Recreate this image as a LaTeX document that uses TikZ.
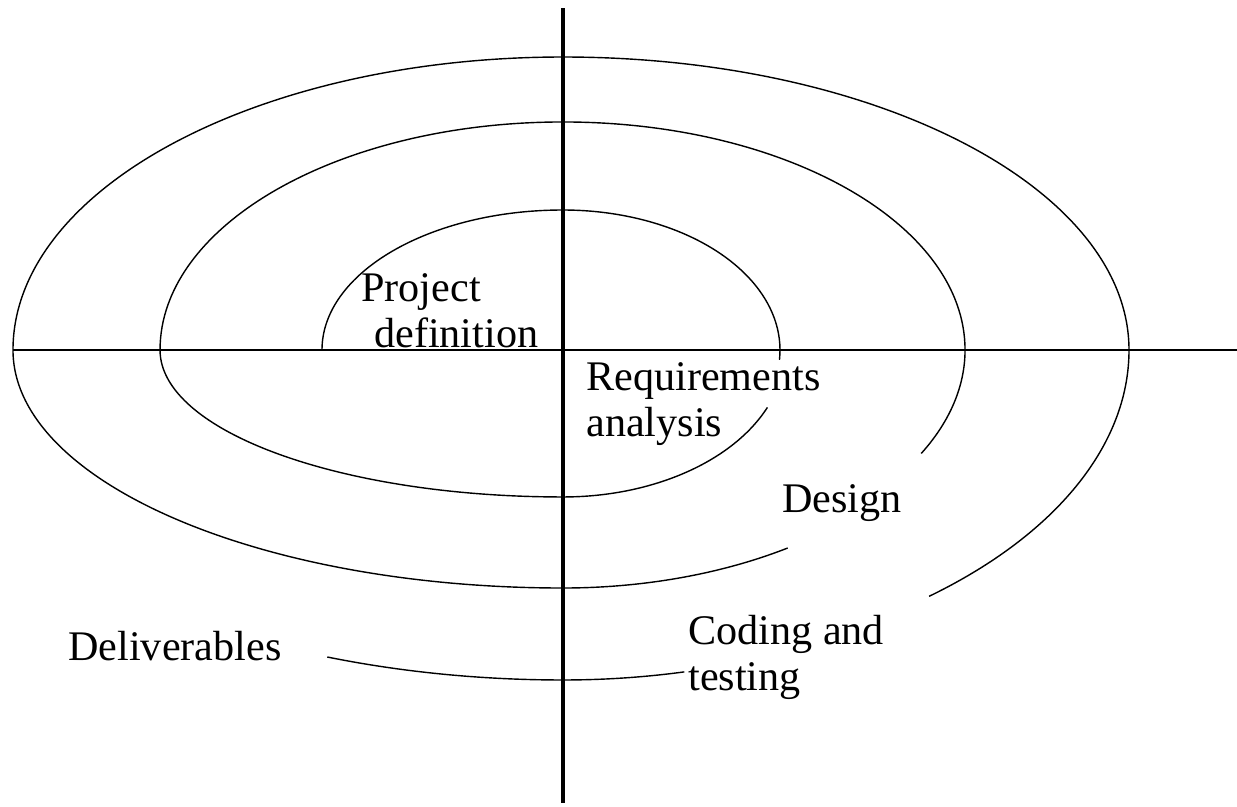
\documentclass[tikz,border=0pt]{standalone}
\usepackage{fontspec}
\setmainfont{Liberation Serif}
\begin{document}
\begin{tikzpicture}[x=0.02cm,y=0.02cm,
    lbl/.style={inner sep=0pt,anchor=base west,align=left,font=\fontsize{24}{26}\selectfont},
    ring/.style={line width=0.8pt},
    axis/.style={line width=1pt}]
  \useasboundingbox (-563,-456) rectangle (674,350);
  % axes
  \draw[axis] (-550,0) -- (674,0);
  \draw[axis,line width=2.2pt] (0,342) -- (0,-453);
  % spiral, broken where the labels sit
  \draw[ring] (-241,0) arc[start angle=180,end angle=90,x radius=241,y radius=140]
    arc[start angle=90,end angle=-4,x radius=217,y radius=140];
  \draw[ring] (204.4,-57.4) arc[start angle=-23,end angle=-90,x radius=222,y radius=147]
    arc[start angle=270,end angle=180,x radius=403,y radius=147]
    arc[start angle=180,end angle=90,x radius=403,y radius=228]
    arc[start angle=90,end angle=-27,x radius=402,y radius=228];
  \draw[ring] (224.7,-198) arc[start angle=-56.3,end angle=-90,x radius=405,y radius=238]
    arc[start angle=270,end angle=180,x radius=550,y radius=238]
    arc[start angle=180,end angle=90,x radius=550,y radius=293]
    arc[start angle=90,end angle=0,x radius=566,y radius=293]
    arc[start angle=0,end angle=-49.7,x radius=566,y radius=323];
  \draw[ring] (-235.7,-307) arc[start angle=-111.5,end angle=-90,x radius=643,y radius=330]
    arc[start angle=-90,end angle=-77.3,x radius=552,y radius=330];
  % labels (base = last line)
  \node[lbl] (proj) at (-202,3) {Project\\\hspace*{0.26cm}definition};
  \node[lbl] (req) at (23,-86) {Requirements\\analysis};
  \node[lbl] (des) at (219,-162) {Design};
  \node[lbl] (code) at (125,-340) {Coding and\\testing};
  \node[lbl] (deliv) at (-495,-310) {Deliverables};
\end{tikzpicture}
\end{document}
